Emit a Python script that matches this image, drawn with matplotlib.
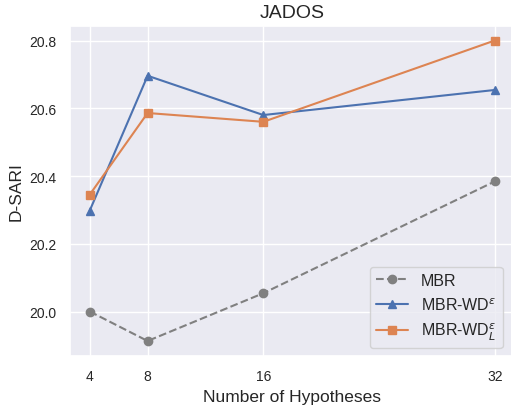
import numpy as np
import matplotlib
matplotlib.use("Agg")
import matplotlib.pyplot as plt
import seaborn as sns

sns.set_theme(style="darkgrid")
plt.rcParams['font.family'] = ['Liberation Sans', 'DejaVu Sans']

n_hyp = [4, 8, 16, 32]
mbr = [20.0, 19.913, 20.054, 20.384]
mbr_wd = [20.298, 20.696, 20.580, 20.654]
mbr_wdl = [20.345, 20.586, 20.560, 20.800]

fig = plt.figure(figsize=(5.11, 4.10), dpi=100)
ax = fig.add_axes([69.5/511, (410-357)/410, (515-69.5)/511, (357-26.5)/410])

ax.plot(n_hyp, mbr, ls="--", marker="o", color="gray", label="MBR")
ax.plot(n_hyp, mbr_wd, marker="^", color="#4C72B0", label=r"MBR-WD$^{\varepsilon}$")
ax.plot(n_hyp, mbr_wdl, marker="s", color="#DD8452", label=r"MBR-WD$^{\varepsilon}_{L}$")

ax.set_xticks(n_hyp)
ax.set_yticks([20.0, 20.2, 20.4, 20.6, 20.8])
ax.tick_params(labelsize=10)
ax.set_xlabel("Number of Hypotheses", fontsize=12.5)
ax.set_ylabel("D-SARI", fontsize=12.5)
ax.set_title("JADOS", fontsize=14)
ax.legend(loc="lower right", fontsize=11.5, bbox_to_anchor=(0.99, 0.0))

fig.savefig("out.png", dpi=100)
